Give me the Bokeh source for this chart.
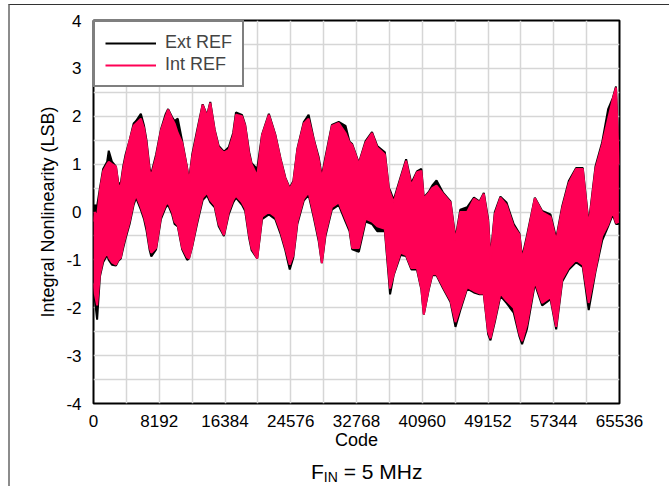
from bokeh.plotting import figure
from bokeh.layouts import column
from bokeh.models import (FixedTicker, Range1d, Legend, LegendItem,
                          ColumnDataSource, Div)
from bokeh.embed import file_html
from bokeh.resources import INLINE

# ---- data (envelope of the dense INL trace) ----
codes = [0, 150, 450, 800, 1200, 1700, 1900, 2300, 2800, 3100, 3400, 3700,
         4000, 4500, 5000, 5300, 5900, 6300, 6600, 7000, 7200, 7800, 8400,
         9000, 9300, 9800, 10100, 10500, 11050, 11670, 11900, 12300, 12900,
         13600, 14150, 14550, 15100, 15600, 16250, 16850, 17400, 17750,
         18500, 18900, 19400, 19700, 20400, 21000, 21850, 22650, 23300,
         23900, 24450, 24900, 25400, 26200, 26800, 27450, 28050, 28450,
         28900, 29700, 30550, 31400, 31900, 32230, 33060, 33900, 34700,
         35350, 36300, 36800, 36950, 37400, 38250, 38950, 39600, 40300,
         40850, 41150, 41770, 42200, 42740, 43570, 44480, 45100, 45700,
         46550, 47400, 48100, 48630, 49170, 49460, 50000, 50700, 51450,
         52350, 53070, 53400, 54000, 54990, 55900, 56940, 57650, 58400,
         59220, 60130, 60960, 61700, 62540, 63370, 64120, 64700, 65100,
         65450]

int_hi = [-0.2, 0.0, -0.1, 0.45, 0.85, 1.0, 1.05, 1.0, 0.95, 0.55, 0.55, 0.9,
          1.15, 1.5, 1.8, 1.85, 1.95, 1.75, 1.45, 0.85, 0.75, 1.15, 1.7,
          2.0, 2.14, 1.95, 1.85, 1.65, 1.45, 0.9, 0.62, 1.15, 1.65,
          2.24, 2.0, 2.28, 1.7, 1.35, 1.24, 1.3, 1.6, 2.03,
          2.0, 1.8, 1.2, 1.0, 0.75, 1.6, 2.03, 1.6, 1.1,
          0.7, 0.48, 0.62, 1.3, 1.85, 1.95, 1.5, 1.1, 0.7,
          1.1, 1.8, 1.86, 1.65, 1.45, 1.4, 1.0, 1.45, 1.65,
          1.35, 1.2, 0.48, 0.4, 0.2, 0.69, 1.07, 0.55, 0.83,
          0.86, 0.28, 0.4, 0.5, 0.55, 0.38, 0.2, -0.6, 0.0,
          0.0, 0.28, 0.2, 0.38, -0.2, -1.0, -0.05, 0.3, 0.15,
          -0.3, -0.47, -1.0, -0.55, 0.29, 0.0, -0.1, -0.6, 0.08,
          0.6, 0.9, 0.9, -0.3, 0.9, 1.4, 1.95, 2.36, 2.6,
          1.0]

int_lo = [-1.5, -1.7, -1.95, -1.3, -1.0, -0.85, -0.95, -1.05, -1.1, -1.0, -0.95, -0.7,
          -0.5, -0.2, 0.2, 0.35, 0.1, -0.1, -0.3, -0.75, -0.85, -0.75, -0.1,
          0.15, 0.2, 0.0, -0.2, -0.28, -0.75, -0.95, -0.97, -0.7, -0.2,
          0.3, 0.4, 0.25, 0.14, -0.25, -0.48, 0.0, 0.25, 0.34,
          0.2, 0.07, -0.5, -0.76, -0.97, -0.1, 0.0, -0.1, -0.4,
          -0.75, -1.1, -0.9, -0.2, 0.28, 0.41, -0.07, -0.55, -1.07,
          -0.45, 0.1, 0.2, -0.15, -0.35, -0.75, -0.75, -0.14, -0.2,
          -0.3, -0.35, -1.3, -1.6, -1.3, -0.85, -0.9, -1.17, -1.17,
          -1.6, -2.14, -1.6, -1.3, -1.3, -1.57, -1.85, -2.3, -2.0,
          -1.57, -1.65, -1.7, -1.7, -2.5, -2.64, -2.25, -1.7, -1.85,
          -2.0, -2.55, -2.7, -2.35, -1.45, -1.9, -1.78, -2.4, -1.4,
          -1.16, -1.0, -1.1, -1.9, -1.2, -0.5, -0.26, 0.0, -0.23,
          -0.2]

ext_hi = [0.1, 0.14, 0.12, 0.5, 0.9, 1.05, 1.28, 1.05, 0.95, 0.6, 0.6, 0.95,
          1.2, 1.5, 1.85, 1.9, 2.05, 1.8, 1.5, 0.9, 0.8, 1.2, 1.72,
          2.05, 2.15, 1.98, 1.9, 1.95, 1.48, 0.92, 0.65, 1.2, 1.7,
          2.25, 2.02, 2.3, 1.72, 1.38, 1.26, 1.35, 1.65, 2.08,
          2.03, 1.82, 1.25, 1.02, 0.9, 1.62, 2.05, 1.62, 1.12,
          0.72, 0.5, 0.65, 1.32, 1.88, 2.03, 1.52, 1.15, 0.75,
          1.15, 1.82, 1.88, 1.8, 1.47, 1.42, 1.02, 1.48, 1.67,
          1.38, 1.25, 0.5, 0.45, 0.25, 0.72, 1.1, 0.6, 0.85,
          0.9, 0.3, 0.42, 0.55, 0.66, 0.4, 0.22, -0.55, 0.05,
          0.1, 0.3, 0.22, 0.4, -0.15, -0.95, 0.0, 0.32, 0.2,
          -0.25, -0.45, -0.95, -0.5, 0.3, 0.02, -0.05, -0.55, 0.12,
          0.65, 0.92, 0.92, -0.25, 0.95, 1.45, 2.15, 2.38, 2.62,
          1.05]

ext_lo = [-1.6, -1.8, -2.25, -1.35, -1.05, -0.9, -1.0, -1.1, -1.12, -1.02, -0.97, -0.75,
          -0.55, -0.25, 0.15, 0.3, 0.05, -0.15, -0.38, -0.8, -0.93, -0.78, -0.15,
          0.1, 0.15, -0.05, -0.25, -0.3, -0.78, -1.0, -0.97, -0.72, -0.25,
          0.25, 0.35, 0.2, 0.1, -0.3, -0.5, -0.05, 0.2, 0.3,
          0.15, 0.02, -0.55, -0.8, -0.97, -0.15, -0.05, -0.15, -0.45,
          -0.8, -1.2, -0.95, -0.25, 0.24, 0.36, -0.12, -0.6, -1.07,
          -0.5, 0.05, 0.15, -0.2, -0.4, -0.78, -0.83, -0.2, -0.25,
          -0.4, -0.4, -1.4, -1.72, -1.32, -0.9, -0.92, -1.2, -1.2,
          -1.62, -2.14, -1.62, -1.32, -1.32, -1.6, -1.88, -2.4, -2.05,
          -1.6, -1.68, -1.72, -1.72, -2.55, -2.68, -2.3, -1.75, -1.9,
          -2.1, -2.6, -2.76, -2.45, -1.5, -1.95, -1.82, -2.45, -1.45,
          -1.2, -1.05, -1.15, -2.05, -1.25, -0.6, -0.3, -0.05, -0.25,
          -0.25]

x_tick_values = [0, 8192, 16384, 24576, 32768, 40960, 49152, 57344, 65536]
x_grid_values = [0, 4096, 8192, 12288, 16384, 20480, 24576, 28672, 32768,
                 36864, 40960, 45056, 49152, 53248, 57344, 61440, 65536]
y_tick_values = [-4, -3, -2, -1, 0, 1, 2, 3, 4]
y_tick_labels = ["-4", "-3", "-2", "-1", "0", "1", "2", "3", "4"]
y_grid_values = [-4, -3.5, -3, -2.5, -2, -1.5, -1, -0.5, 0, 0.5, 1, 1.5,
                 2, 2.5, 3, 3.5, 4]

series_names = ["Ext REF", "Int REF"]
series_colors = ["#000000", "#FF0055"]
caption_parts = ["F", "IN", " = 5 MHz"]

FONT = "Liberation Sans"

src = ColumnDataSource(dict(code=codes, int_hi=int_hi, int_lo=int_lo,
                            ext_hi=ext_hi, ext_lo=ext_lo))

p = figure(width=661, height=447, output_backend="svg", toolbar_location=None,
           x_range=Range1d(0, 65536), y_range=Range1d(-4, 4),
           min_border_left=83, min_border_right=52, min_border_top=15,
           min_border_bottom=45)
p.styles = {"margin-left": "8px", "margin-top": "4px",
            "border-top": "1px solid #333333",
            "border-left": "2px solid #8c8c8c"}

p.background_fill_color = "white"
p.border_fill_color = "white"
p.outline_line_color = "black"
p.outline_line_width = 2

# grids
p.xgrid.ticker = FixedTicker(ticks=x_grid_values)
p.ygrid.ticker = FixedTicker(ticks=y_grid_values)
for g in (p.xgrid, p.ygrid):
    g.grid_line_color = "#d6d6d6"
    g.grid_line_width = 1.5

# axes
p.xaxis.ticker = FixedTicker(ticks=x_tick_values)
p.yaxis.ticker = FixedTicker(ticks=y_tick_values)
p.yaxis.major_label_overrides = dict(zip(y_tick_values, y_tick_labels))
for ax in (p.xaxis, p.yaxis):
    ax.axis_line_color = None
    ax.major_tick_line_color = None
    ax.minor_tick_line_color = None
    ax.major_label_text_font = FONT
    ax.major_label_text_font_size = "17px"
    ax.major_label_text_color = "black"
    ax.axis_label_text_font = FONT
    ax.axis_label_text_font_size = "18px"
    ax.axis_label_text_font_style = "normal"
    ax.axis_label_text_color = "black"
p.xaxis.major_label_standoff = 5
p.yaxis.major_label_standoff = 6
p.xaxis.axis_label = "Code"
p.xaxis.axis_label_standoff = 0
p.yaxis.axis_label = "Integral Nonlinearity (LSB)"
p.yaxis.axis_label_standoff = 5

# data: black (Ext REF) behind, pink (Int REF) in front
p.varea(x="code", y1="ext_lo", y2="ext_hi", source=src,
        fill_color=series_colors[0])
ext_top = p.line(x="code", y="ext_hi", source=src, line_color=series_colors[0],
                 line_width=2)
p.line(x="code", y="ext_lo", source=src, line_color=series_colors[0],
       line_width=2)
p.varea(x="code", y1="int_lo", y2="int_hi", source=src,
        fill_color=series_colors[1])
int_top = p.line(x="code", y="int_hi", source=src, line_color=series_colors[1],
                 line_width=2)
p.line(x="code", y="int_lo", source=src, line_color=series_colors[1],
       line_width=2)

legend = Legend(items=[LegendItem(label=series_names[0], renderers=[ext_top]),
                       LegendItem(label=series_names[1], renderers=[int_top])],
                location="top_left", margin=0, padding=10, spacing=1,
                glyph_width=51, glyph_height=18, label_height=18,
                label_standoff=9, label_text_font=FONT,
                label_text_font_size="18px", border_line_color="black",
                border_line_width=2, background_fill_alpha=1)
p.add_layout(legend)

# caption below the chart: F_IN = 5 MHz
cap_html = ('<div style="font-family:\'Liberation Sans\',Arial,sans-serif;'
            'font-size:21px;color:#000;line-height:21px;white-space:nowrap;'
            'padding-left:301px;padding-top:10px;">'
            + caption_parts[0]
            + '<span style="font-size:14px;position:relative;top:3px;">'
            + caption_parts[1] + '</span>' + caption_parts[2] + '</div>')
cap = Div(text=cap_html, width=661, height=35, margin=0)
cap.styles = {"margin-left": "8px", "border-left": "2px solid #8c8c8c",
              "overflow": "visible"}

layout = column(p, cap, spacing=0)
open("out.html", "w").write(file_html(layout, INLINE))
